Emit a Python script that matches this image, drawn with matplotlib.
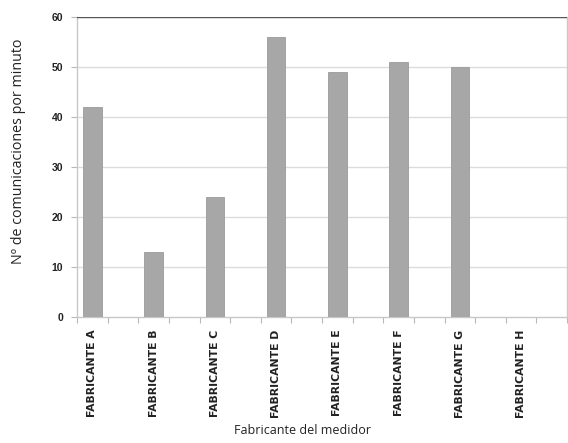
import matplotlib.pyplot as plt
import numpy as np
from matplotlib.ticker import MultipleLocator

categories = ["FABRICANTE A", "FABRICANTE B", "FABRICANTE C", "FABRICANTE D",
              "FABRICANTE E", "FABRICANTE F", "FABRICANTE G", "FABRICANTE H"]
values = [42, 13, 24, 56, 49, 51, 50, 0]
y_ticks = [0, 10, 20, 30, 40, 50, 60]

fig = plt.figure(figsize=(5.68, 4.43), dpi=100)
ax = fig.add_axes([77 / 568, 1 - 317 / 443, 490 / 568, 300 / 443])

# each maker occupies every other slot on a 16-slot axis
pos = np.arange(len(categories)) * 2
ax.bar(pos, values, width=0.6, color="#a6a7a6", edgecolor="#9a9b9a", linewidth=0.6, zorder=3)

ax.set_xlim(-0.5, 2 * len(categories) - 0.5)
ax.set_ylim(0, 60)
ax.set_yticks(y_ticks)
ax.set_yticklabels([str(v) for v in y_ticks], fontsize=7.5, fontweight="bold",
                   family="Liberation Sans", color="#222222")
ax.set_xticks(pos)
ax.set_xticklabels(categories, rotation=90, fontsize=7.8, fontweight="bold",
                   family="Liberation Sans Narrow", color="#222222")
ax.tick_params(axis="x", length=0, pad=9)
ax.xaxis.set_minor_locator(MultipleLocator(1, offset=0.5))
ax.tick_params(axis="x", which="minor", length=4, color="#b8b8b8", width=0.8)
ax.tick_params(axis="y", length=4, color="#b8b8b8", width=0.8, pad=6)

for v in y_ticks[1:-1]:
    ax.axhline(v, color="#dcdcdc", linewidth=1.0, zorder=1)
ax.axhline(60, color="#555555", linewidth=1.0, zorder=4)

for side in ["left", "bottom", "right"]:
    ax.spines[side].set_color("#c8c8c8")
    ax.spines[side].set_linewidth(1.0)
ax.spines["top"].set_visible(False)

ax.set_ylabel("Nº de comunicaciones por minuto", fontsize=10.3, family="Open Sans", color="#222222")
ax.yaxis.set_label_coords(-(77 - 26) / 490, (317 - 151) / 300)
ax.set_xlabel("Fabricante del medidor", fontsize=9, family="Open Sans", color="#222222")
ax.xaxis.set_label_coords((302 - 77) / 490, -(424 - 317) / 300)

fig.savefig("out.png", dpi=100, facecolor="white")
